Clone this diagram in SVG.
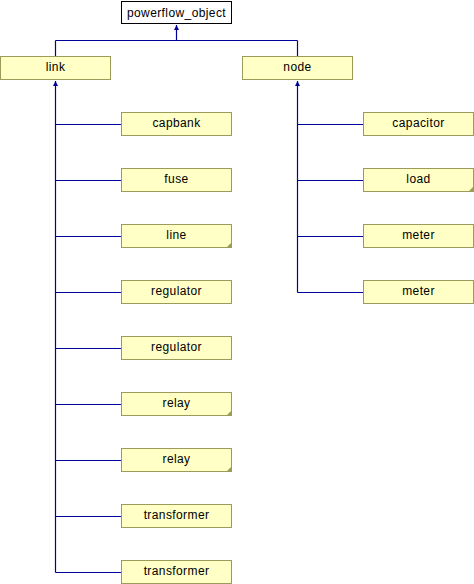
<svg xmlns="http://www.w3.org/2000/svg" width="474" height="584" viewBox="0 0 474 584">
<style>
.b{fill:#ffffc6;stroke:#9c9c5a;stroke-width:1}
.r{fill:#ffffff;stroke:#000000;stroke-width:1}
.t{font-family:"Liberation Sans",Arial,sans-serif;font-size:12px;fill:#000;text-anchor:middle;letter-spacing:0.4px}
.c{fill:none;stroke:#00009c;stroke-width:1.2}
.f{fill:#9c9c5a}
</style>
<defs>
<marker id="ah" markerWidth="6" markerHeight="6" refX="5" refY="3" orient="auto" markerUnits="userSpaceOnUse">
<path d="M0,0.5 L5,3 L0,5.5 Z" fill="#00009c"/>
</marker>
</defs>
<g id="connectors">
<path class="c" d="M55.5,40.5 H297.5 M176.5,40.5 V25" marker-end="url(#ah)"/>
<path class="c" d="M55.5,40.5 V56"/>
<path class="c" d="M297.5,40.5 V56"/>
<path class="c" d="M55.5,572.5 V81" marker-end="url(#ah)"/>
<path class="c" d="M55.5,124.5 H121 M55.5,180.5 H121 M55.5,236.5 H121 M55.5,292.5 H121 M55.5,348.5 H121 M55.5,404.5 H121 M55.5,460.5 H121 M55.5,516.5 H121 M55.5,572.5 H121"/>
<path class="c" d="M297.5,292.5 V81" marker-end="url(#ah)"/>
<path class="c" d="M297.5,124.5 H363 M297.5,180.5 H363 M297.5,236.5 H363 M297.5,292.5 H363"/>
</g>
<g id="powerflow_object"><rect class="r" x="121.5" y="1.5" width="110" height="22"/><text class="t" x="176.5" y="17">powerflow_object</text></g>
<g id="link"><rect class="b" x="0.5" y="56.5" width="110" height="23"/><text class="t" x="55.5" y="71">link</text></g>
<g id="node"><rect class="b" x="242.5" y="56.5" width="110" height="23"/><text class="t" x="297.5" y="71">node</text></g>
<g id="capbank"><rect class="b" x="121.5" y="112.5" width="110" height="23"/><text class="t" x="176.5" y="127">capbank</text></g>
<g id="fuse"><rect class="b" x="121.5" y="168.5" width="110" height="23"/><text class="t" x="176.5" y="183">fuse</text></g>
<g id="line"><rect class="b" x="121.5" y="224.5" width="110" height="23"/><path class="f" d="M231.5,242.5 V247.5 H226.5 Z"/><text class="t" x="176.5" y="239">line</text></g>
<g id="regulator1"><rect class="b" x="121.5" y="280.5" width="110" height="23"/><text class="t" x="176.5" y="295">regulator</text></g>
<g id="regulator2"><rect class="b" x="121.5" y="336.5" width="110" height="23"/><text class="t" x="176.5" y="351">regulator</text></g>
<g id="relay1"><rect class="b" x="121.5" y="392.5" width="110" height="23"/><path class="f" d="M231.5,410.5 V415.5 H226.5 Z"/><text class="t" x="176.5" y="407">relay</text></g>
<g id="relay2"><rect class="b" x="121.5" y="448.5" width="110" height="23"/><path class="f" d="M231.5,466.5 V471.5 H226.5 Z"/><text class="t" x="176.5" y="463">relay</text></g>
<g id="transformer1"><rect class="b" x="121.5" y="504.5" width="110" height="23"/><text class="t" x="176.5" y="519">transformer</text></g>
<g id="transformer2"><rect class="b" x="121.5" y="560.5" width="110" height="23"/><text class="t" x="176.5" y="575">transformer</text></g>
<g id="capacitor"><rect class="b" x="363.5" y="112.5" width="110" height="23"/><text class="t" x="418.5" y="127">capacitor</text></g>
<g id="load"><rect class="b" x="363.5" y="168.5" width="110" height="23"/><path class="f" d="M473.5,186.5 V191.5 H468.5 Z"/><text class="t" x="418.5" y="183">load</text></g>
<g id="meter1"><rect class="b" x="363.5" y="224.5" width="110" height="23"/><text class="t" x="418.5" y="239">meter</text></g>
<g id="meter2"><rect class="b" x="363.5" y="280.5" width="110" height="23"/><text class="t" x="418.5" y="295">meter</text></g>
</svg>
